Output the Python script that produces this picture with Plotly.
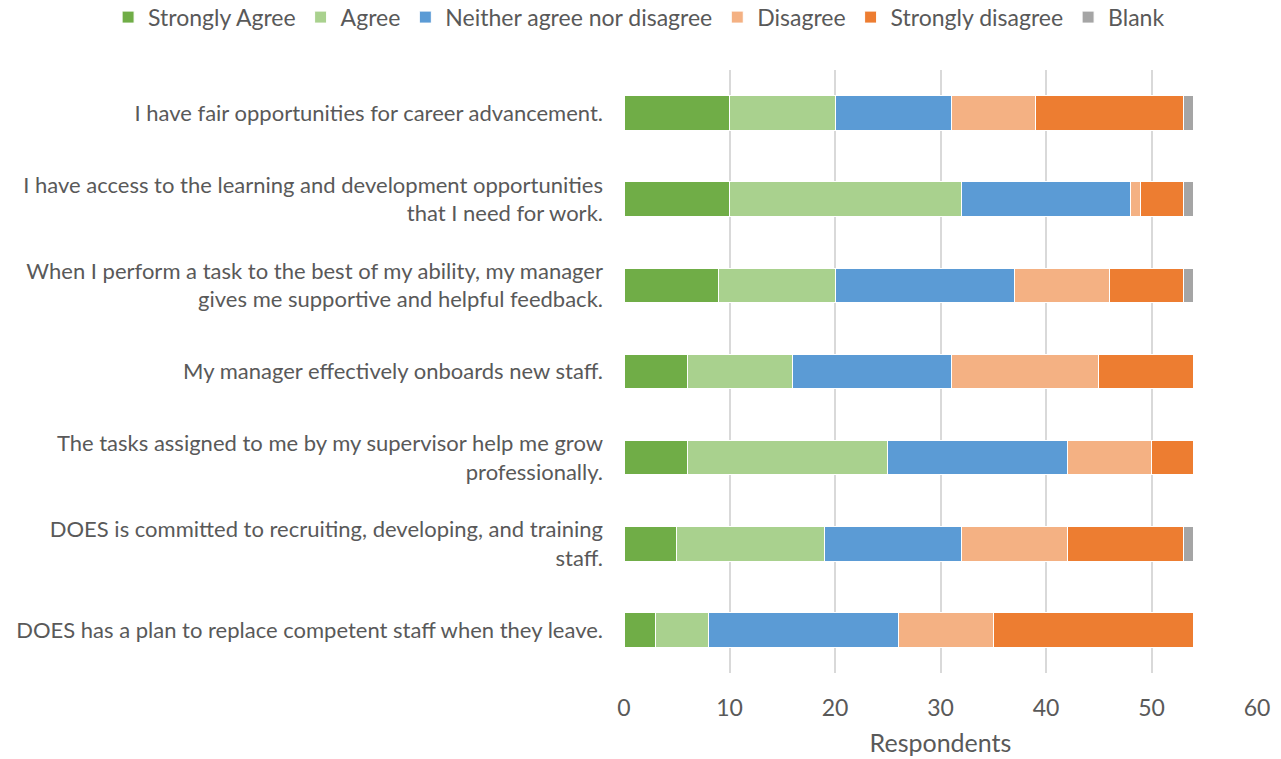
import plotly.graph_objects as go

statements = [
    "I have fair opportunities for career advancement.",
    "I have access to the learning and development opportunities<br>that I need for work.",
    "When I perform a task to the best of my ability, my manager<br>gives me supportive and helpful feedback.",
    "My manager effectively onboards new staff.",
    "The tasks assigned to me by my supervisor help me grow<br>professionally.",
    "DOES is committed to recruiting, developing, and training<br>staff.",
    "DOES has a plan to replace competent staff when they leave.",
]

strongly_agree = [10, 10, 9, 6, 6, 5, 3]
agree = [10, 22, 11, 10, 19, 14, 5]
neither = [11, 16, 17, 15, 17, 13, 18]
disagree = [8, 1, 9, 14, 8, 10, 9]
strongly_disagree = [14, 4, 7, 9, 4, 11, 19]
blank = [1, 1, 1, 0, 0, 1, 0]

series = [
    ("Strongly Agree", strongly_agree, "#70AD47"),
    ("Agree", agree, "#A9D18E"),
    ("Neither agree nor disagree", neither, "#5B9BD5"),
    ("Disagree", disagree, "#F4B183"),
    ("Strongly disagree", strongly_disagree, "#ED7D31"),
    ("Blank", blank, "#A5A5A5"),
]

fig = go.Figure()
for name, vals, color in series:
    fig.add_trace(go.Bar(
        y=statements, x=vals, name=name, orientation="h",
        marker=dict(color=color, line=dict(color="white", width=1)),
    ))

font_family = "Lato, 'Open Sans', sans-serif"
text_color = "#595959"
fig.update_layout(
    barmode="stack",
    bargap=0.6,
    width=1281, height=759,
    margin=dict(l=624, r=24, t=70, b=86, autoexpand=False),
    plot_bgcolor="white", paper_bgcolor="white",
    font=dict(family=font_family, size=22, color=text_color),
    legend=dict(
        orientation="h", traceorder="normal",
        xref="paper", x=-0.815, xanchor="left",
        yref="paper", y=1.052, yanchor="bottom",
        font=dict(size=23, color=text_color),
        itemwidth=30, tracegroupgap=0,
    ),
    xaxis=dict(
        range=[0, 60], dtick=10, showgrid=True, gridcolor="#D9D9D9", gridwidth=1.5,
        zeroline=False, showline=False, ticks="",
        ticklabelstandoff=19,
        title=dict(text="Respondents", font=dict(size=25, color=text_color), standoff=14),
        tickfont=dict(size=23, color=text_color),
    ),
    yaxis=dict(
        categoryorder="array", categoryarray=statements[::-1],
        showgrid=False, zeroline=False, showline=False, ticks="",
        ticklabelstandoff=20,
        tickfont=dict(size=22, color=text_color),
    ),
)

fig.write_html("out.html")
